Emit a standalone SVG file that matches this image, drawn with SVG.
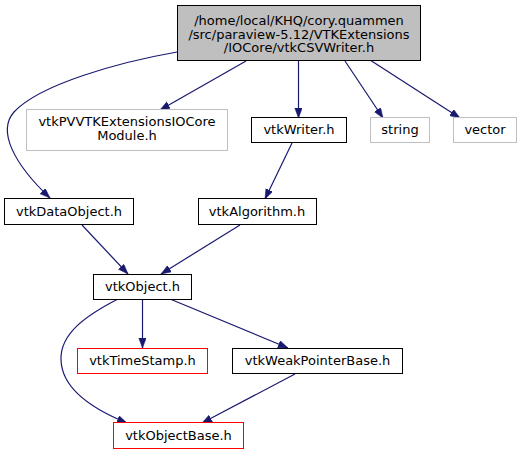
<svg xmlns="http://www.w3.org/2000/svg" width="522" height="455" viewBox="0 0 522 455">
<style>
text{font-family:"DejaVu Sans","Liberation Sans",sans-serif;font-size:13px;fill:#000;text-anchor:middle}
.n rect{fill:#fff;stroke:#000;stroke-width:1}
.top rect{fill:#bfbfbf}
.g rect{stroke:#bfbfbf}
.r rect{stroke:#ff0000}
.e path{fill:none;stroke:#191970;stroke-width:1.2}
</style>
<defs>
<marker id="a" markerWidth="11" markerHeight="8" refX="10" refY="3.75" orient="auto" markerUnits="userSpaceOnUse">
<path d="M0,0 L10,3.75 L0,7.5 z" fill="#191970" stroke="#191970" stroke-width="0.5"/>
</marker>
</defs>
<g class="e">
<path d="M177,52 C120,62 40,84 14,112 C-3,131 14,164 50,198" marker-end="url(#a)"/>
<path d="M246,61 L160,110" marker-end="url(#a)"/>
<path d="M298.5,61 L298.5,118" marker-end="url(#a)"/>
<path d="M345,61 L383,118" marker-end="url(#a)"/>
<path d="M370,60 L460,118" marker-end="url(#a)"/>
<path d="M292,143 L265,199" marker-end="url(#a)"/>
<path d="M82,225 L128,274" marker-end="url(#a)"/>
<path d="M240,225 L161,274" marker-end="url(#a)"/>
<path d="M142.5,299 L142.5,348" marker-end="url(#a)"/>
<path d="M170,299 L288,348" marker-end="url(#a)"/>
<path d="M118,299 C85,316 60,334 61,360 C62,390 95,410 127,423" marker-end="url(#a)"/>
<path d="M295,374 L202,423" marker-end="url(#a)"/>
</g>
<g id="node_top" class="n top"><rect x="177.5" y="5.5" width="243" height="55"/><text x="299" y="25">/home/local/KHQ/cory.quammen</text><text x="299" y="38.5">/src/paraview-5.12/VTKExtensions</text><text x="299" y="52">/IOCore/vtkCSVWriter.h</text></g>
<g id="node_pvvtk" class="n g"><rect x="26.5" y="109.5" width="201" height="41"/><text x="127" y="126">vtkPVVTKExtensionsIOCore</text><text x="127" y="140">Module.h</text></g>
<g id="node_writer" class="n"><rect x="251.5" y="117.5" width="95" height="25"/><text x="299" y="134">vtkWriter.h</text></g>
<g id="node_string" class="n g"><rect x="370.5" y="117.5" width="59" height="25"/><text x="400" y="134">string</text></g>
<g id="node_vector" class="n g"><rect x="453.5" y="117.5" width="63" height="25"/><text x="485" y="134">vector</text></g>
<g id="node_dataobject" class="n"><rect x="4.5" y="198.5" width="129" height="26"/><text x="69" y="216">vtkDataObject.h</text></g>
<g id="node_algorithm" class="n"><rect x="198.5" y="198.5" width="118" height="26"/><text x="257" y="216">vtkAlgorithm.h</text></g>
<g id="node_object" class="n"><rect x="93.5" y="274.5" width="98" height="25"/><text x="142.5" y="291">vtkObject.h</text></g>
<g id="node_timestamp" class="n r"><rect x="77.5" y="348.5" width="130" height="25"/><text x="142.5" y="365">vtkTimeStamp.h</text></g>
<g id="node_weak" class="n"><rect x="232.5" y="348.5" width="170" height="25"/><text x="317.5" y="365">vtkWeakPointerBase.h</text></g>
<g id="node_objectbase" class="n r"><rect x="113.5" y="422.5" width="130" height="26"/><text x="178.5" y="440">vtkObjectBase.h</text></g>
</svg>
